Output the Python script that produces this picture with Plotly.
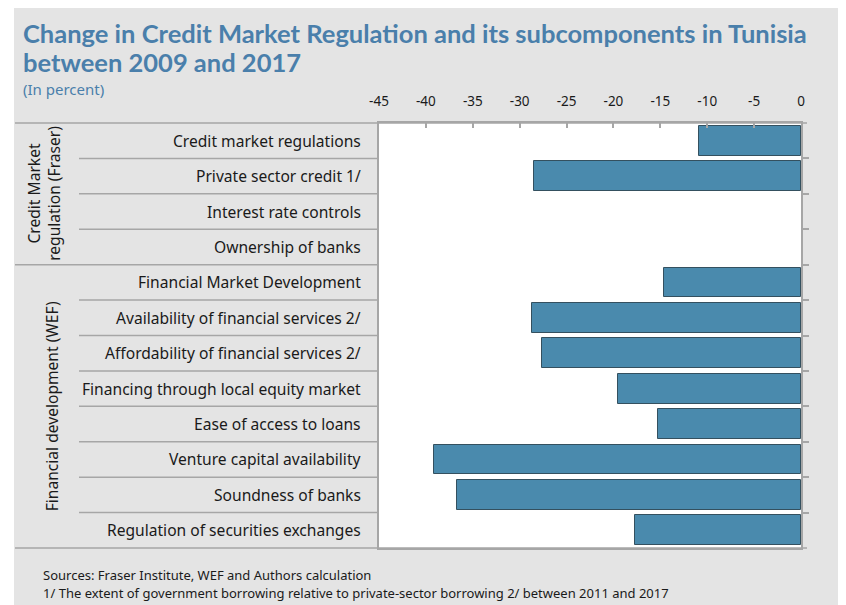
import plotly.graph_objects as go

# data
categories = [
    "Credit market regulations",
    "Private sector credit 1/",
    "Interest rate controls",
    "Ownership of banks",
    "Financial Market Development",
    "Availability of financial services 2/",
    "Affordability of financial services 2/",
    "Financing through local equity market",
    "Ease of access to loans",
    "Venture capital availability",
    "Soundness of banks",
    "Regulation of securities exchanges",
]
values = [-10.9, -28.5, 0, 0, -14.6, -28.7, -27.6, -19.5, -15.3, -39.1, -36.7, -17.7]
groups = ["Credit Market<br>regulation (Fraser)", "Financial development (WEF)"]
group_sizes = [4, 8]
x_ticks = [-45, -40, -35, -30, -25, -20, -15, -10, -5, 0]
x_tick_text = [str(v) for v in x_ticks]

# page has an 8px body margin, so the figure is 8px smaller than the window
OFF = 8
W, H = 846 - OFF, 605 - OFF
L, R, T, B = 379, 801, 123, 548  # plot area in window pixels


def px(x):
    return (x - L) / (R - L)


def py(y):
    return (B - y) / (B - T)


blue = "#4a7fab"
line_gray = "#a6a6a6"
txt = "#1a1a1a"
pos = list(range(len(categories)))

fig = go.Figure()
fig.add_trace(go.Bar(
    x=values, y=pos, orientation="h", width=0.84,
    marker=dict(color="#4a8aad",
                line=dict(color="#34505f", width=[1 if v else 0 for v in values])),
    hoverinfo="x+text", hovertext=categories,
))

shapes = [
    dict(type="rect", xref="paper", yref="paper", x0=px(14), x1=px(860),
         y0=py(620), y1=py(7), fillcolor="#e4e4e4", line_width=0, layer="below"),
    dict(type="rect", xref="paper", yref="paper", x0=0, x1=1, y0=0, y1=1,
         fillcolor="white", line_width=0, layer="below"),
    dict(type="line", xref="paper", yref="paper", x0=px(15), x1=px(807), y0=1, y1=1,
         line=dict(color=line_gray, width=1.5)),
    dict(type="line", xref="paper", yref="paper", x0=px(15), x1=px(807), y0=0, y1=0,
         line=dict(color=line_gray, width=1.5)),
]

# row separators in the label column, full-width ones between groups
boundaries = []
n = 0
for s in group_sizes:
    n += s
    boundaries.append(n - 0.5)
for i in range(len(categories) - 1):
    yb = i + 0.5
    x_start = px(15) if yb in boundaries else px(79)
    shapes.append(dict(type="line", xref="paper", yref="y", x0=x_start, x1=0,
                       y0=yb, y1=yb, line=dict(color=line_gray, width=1.5)))

annotations = []
for i, c in enumerate(categories):
    annotations.append(dict(x=px(363), y=i, xref="paper", yref="y", text=c,
                            showarrow=False, xanchor="right", yanchor="middle",
                            font=dict(family="Noto Sans", size=15.6, color=txt)))

start = 0
for g, s, gx in zip(groups, group_sizes, [44, 52]):
    mid = start + (s - 1) / 2
    annotations.append(dict(x=px(gx), y=mid, xref="paper", yref="y", text=g,
                            showarrow=False, textangle=-90, xanchor="center",
                            yanchor="middle",
                            font=dict(family="Noto Sans", size=15.6, color=txt)))
    start += s

annotations += [
    dict(x=px(21), y=py(33), xref="paper", yref="paper", showarrow=False,
         xanchor="left", yanchor="middle",
         text="<b>Change in Credit Market Regulation and its subcomponents in Tunisia</b>",
         font=dict(family="Lato", size=25.5, color=blue)),
    dict(x=px(21), y=py(62), xref="paper", yref="paper", showarrow=False,
         xanchor="left", yanchor="middle", text="<b>between 2009 and 2017</b>",
         font=dict(family="Lato", size=25.5, color=blue)),
    dict(x=px(21), y=py(89), xref="paper", yref="paper", showarrow=False,
         xanchor="left", yanchor="middle", text="(In percent)",
         font=dict(family="Noto Sans", size=15, color=blue)),
    dict(x=px(41), y=py(575), xref="paper", yref="paper", showarrow=False,
         xanchor="left", yanchor="middle",
         text="Sources: Fraser Institute, WEF and Authors calculation",
         font=dict(family="Noto Sans", size=13, color=txt)),
    dict(x=px(41), y=py(593), xref="paper", yref="paper", showarrow=False,
         xanchor="left", yanchor="middle",
         text="1/ The extent of government borrowing relative to private-sector borrowing 2/ between 2011 and 2017",
         font=dict(family="Noto Sans", size=13, color=txt)),
]

fig.update_layout(
    width=W, height=H,
    margin=dict(l=L - OFF, r=W - (R - OFF), t=T - OFF, b=H - (B - OFF), pad=0),
    paper_bgcolor="white", plot_bgcolor="rgba(0,0,0,0)",
    showlegend=False, bargap=0,
    shapes=shapes, annotations=annotations,
    xaxis=dict(range=[-45, 0], side="top", tickvals=x_ticks, ticktext=x_tick_text,
               ticks="inside", ticklen=5, tickcolor=line_gray, tickwidth=1.5,
               ticklabelstandoff=10,
               showline=True, linecolor=line_gray, linewidth=1.5, mirror=True,
               showgrid=False, zeroline=False,
               tickfont=dict(family="Noto Sans", size=13.5, color=txt)),
    yaxis=dict(range=[len(categories) - 0.5, -0.5], side="right",
               tickvals=[i + 0.5 for i in range(len(categories) - 1)],
               ticks="outside", ticklen=6, tickcolor=line_gray, tickwidth=1.5,
               showticklabels=False, showline=True, linecolor=line_gray,
               linewidth=1.5, mirror=True, showgrid=False, zeroline=False),
)

fig.write_html("out.html")
